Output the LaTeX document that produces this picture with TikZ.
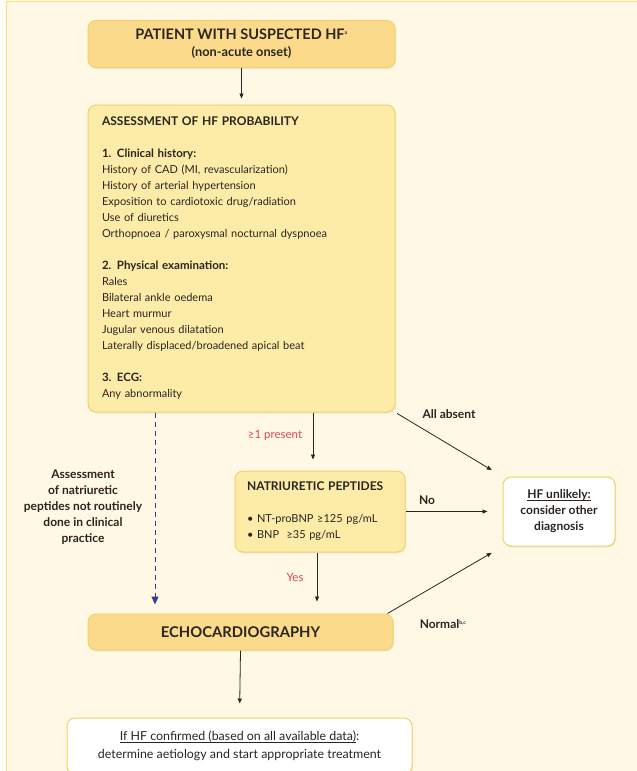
\documentclass[tikz,border=0pt]{standalone}
\usepackage{fontspec}
\setmainfont{Lato}
\usetikzlibrary{arrows.meta,shadows}
\definecolor{bgcream}{RGB}{254,248,229}
\definecolor{frameyellow}{RGB}{246,224,122}
\definecolor{boxdark}{RGB}{251,219,139}
\definecolor{boxlight}{RGB}{253,235,168}
\definecolor{boxborder}{RGB}{242,210,104}
\definecolor{redlabel}{RGB}{222,72,78}
\definecolor{navy}{RGB}{52,62,142}
\definecolor{ink}{RGB}{42,37,33}
\newcommand{\bodyfont}{\fontsize{11}{16}\selectfont}
\newcommand{\labelfont}{\fontsize{12}{16}\selectfont\bfseries}
\newcommand{\ulineA}[1]{\setbox0=\hbox{#1}\leavevmode\rlap{\rule[-2.2pt]{\wd0}{0.8pt}}\box0}
\begin{document}
\begin{tikzpicture}[x=1pt,y=-1pt,
  box/.style={draw=boxborder, line width=1pt, rounded corners=8pt,
    drop shadow={shadow xshift=1pt, shadow yshift=-1.5pt, opacity=0.12},
    text=ink, inner sep=0pt},
  darkbox/.style={box, fill=boxdark},
  lightbox/.style={box, fill=boxlight},
  whitebox/.style={box, fill=white},
  arrow/.style={draw=ink, line width=0.8pt, -{Triangle[length=5pt,width=4pt]}},
  dasharrow/.style={draw=navy, line width=1pt, dash pattern=on 5pt off 4pt,
    -{Triangle[length=8pt,width=7pt]}},
  lbl/.style={font=\labelfont, text=ink, inner sep=0pt},
  redlbl/.style={font=\fontsize{11.5}{16}\selectfont, text=redlabel, inner sep=0pt}
]
\fill[bgcream] (0,0) rectangle (637,771);
\fill[white!60!bgcream] (0,0) rectangle (6,771);
\useasboundingbox (0,0) rectangle (637,771);
\draw[frameyellow, line width=1.2pt] (6.5,771) -- (6.5,1.2) -- (637,1.2);

% boxes
\node[darkbox, minimum width=307pt, minimum height=47pt, align=center,
  font=\fontsize{14.5}{17}\selectfont\bfseries]
  (patient) at (241.5,44)
  {PATIENT WITH SUSPECTED HF\textsuperscript{\tiny a}\\
   {\fontsize{12.8}{17}\selectfont (non-acute onset)}};

\node[lightbox, minimum width=307pt, minimum height=307pt, text width=279pt,
  align=left, font=\bodyfont] (assess) at (241.5,258.5)
  {{\fontsize{12}{16}\selectfont\bfseries ASSESSMENT OF HF PROBABILITY}\\[16pt]
   {\fontsize{11.5}{16}\selectfont\bfseries 1. Clinical history:}\\
   History of CAD (MI, revascularization)\\
   History of arterial hypertension\\
   Exposition to cardiotoxic drug/radiation\\
   Use of diuretics\\
   Orthopnoea / paroxysmal nocturnal dyspnoea\\[16pt]
   {\fontsize{11.5}{16}\selectfont\bfseries 2. Physical examination:}\\
   Rales\\
   Bilateral ankle oedema\\
   Heart murmur\\
   Jugular venous dilatation\\
   Laterally displaced/broadened apical beat\\[16pt]
   {\fontsize{11.5}{16}\selectfont\bfseries 3. ECG:}\\
   Any abnormality};

\node[lightbox, minimum width=170pt, minimum height=81pt, text width=146pt,
  align=left, font=\bodyfont] (np) at (320,511.5)
  {{\fontsize{12}{16}\selectfont\bfseries NATRIURETIC PEPTIDES}\\[16pt]
   • NT-proBNP ≥125 pg/mL\\
   • BNP\ \ ≥35 pg/mL};

\node[whitebox, minimum width=112pt, minimum height=69pt, align=center,
  font=\labelfont] (hf) at (559,511.5)
  {\ulineA{HF unlikely:}\\consider other\\diagnosis};

\node[darkbox, minimum width=305pt, minimum height=36pt,
  font=\fontsize{14.8}{17}\selectfont\bfseries] (echo) at (240.5,632)
  {ECHOCARDIOGRAPHY};

\node[whitebox, minimum width=345pt, minimum height=56pt, align=center,
  font=\fontsize{12.4}{18}\selectfont] (confirm) at (239.5,746)
  {\ulineA{If HF confirmed (based on all available data)}:\\
   determine aetiology and start appropriate treatment};

% labels
\node[redlbl] (present) at (275,435) {≥1 present};
\node[lbl, align=center] (notdone) at (83,507)
  {Assessment\\of natriuretic\\peptides not routinely\\done in clinical\\practice};
\node[lbl] (absent) at (449,414) {All absent};
\node[lbl] (no) at (427,500) {No};
\node[redlbl] (yes) at (295,577) {Yes};
\node[lbl] (normal) at (443,624) {Normal\textsuperscript{\tiny b,c}};

% connector x positions
\coordinate (dashx) at (155,0);
\coordinate (presx) at (313,0);
\coordinate (yesx) at (317,0);

% connectors
\draw[arrow, shorten >=6pt] (patient.south) -- (assess.north);
\draw[arrow, shorten >=11pt] (assess.south -| presx) -- (np.north -| presx);
\draw[dasharrow, shorten >=9pt] (assess.south -| dashx) -- (echo.north -| dashx);
\draw[arrow, shorten >=12pt] (np.south -| yesx) -- (echo.north -| yesx);
\draw[arrow, shorten >=15pt] (np.east) -- (hf.west);
\draw[arrow, shorten >=12.5pt, shorten <=2pt] (assess.south east) -- (hf.north west);
\draw[arrow, shorten >=12.5pt] ([xshift=-6pt]echo.north east) -- (hf.south west);
\draw[arrow, shorten >=14pt] (echo.south) -- (confirm.north);
\end{tikzpicture}
\end{document}
